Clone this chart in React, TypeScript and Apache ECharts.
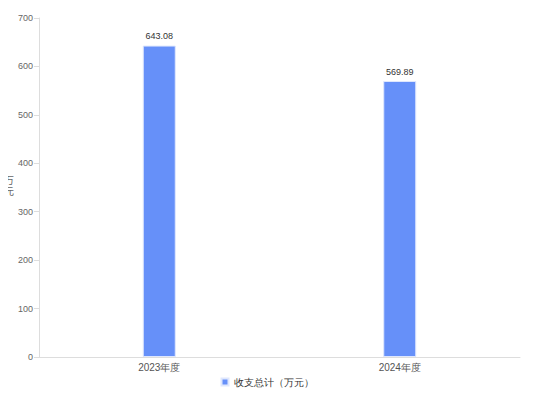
import React, { useEffect, useRef } from "react";
import * as echarts from "echarts";

const categories = ["2023年度", "2024年度"];
const values = [643.08, 569.89];
const seriesName = "收支总计（万元）";
const yAxisName = "万\n元";
const yTicks = { min: 0, max: 700, interval: 100 };

const FONT = "'Noto Sans CJK SC', 'Liberation Sans', Arial, sans-serif";

export default function App() {
  const ref = useRef<HTMLDivElement>(null);
  useEffect(() => {
    const chart = echarts.init(ref.current!, null, { renderer: "svg" });
    chart.setOption({
      animation: false,
      textStyle: { fontFamily: "'Liberation Sans', Arial, sans-serif" },
      grid: { left: 39, right: 14, top: 18, bottom: 43 },
      legend: {
        bottom: 8,
        left: "center",
        itemWidth: 7,
        itemHeight: 7,
        icon: "rect",
        textStyle: { fontSize: 10, color: "#333" },
        data: [seriesName],
      },
      graphic: [
        {
          type: "text",
          x: 9,
          y: 185,
          style: {
            text: yAxisName,
            fill: "#666",
            fontSize: 10,
            lineHeight: 11,
            fontFamily: FONT,
            align: "center",
            verticalAlign: "middle",
          },
        },
      ],
      xAxis: {
        type: "category",
        data: categories,
        axisLine: { lineStyle: { color: "#ddd" } },
        axisTick: { alignWithLabel: true, lineStyle: { color: "#ddd" } },
        axisLabel: { color: "#555", fontSize: 10, margin: 5 },
      },
      yAxis: {
        type: "value",
        min: yTicks.min,
        max: yTicks.max,
        interval: yTicks.interval,
        axisLine: { show: true, lineStyle: { color: "#ddd" } },
        axisTick: { show: true, lineStyle: { color: "#ddd" } },
        splitLine: { show: false },
        axisLabel: { color: "#666", fontSize: 9, margin: 6 },
      },
      series: [
        {
          name: seriesName,
          type: "bar",
          data: values,
          barWidth: 33,
          itemStyle: { color: "#6690f9", borderColor: "#dfe7fd", borderWidth: 1 },
          label: {
            show: true,
            position: "top",
            color: "#333",
            fontSize: 9,
            formatter: (p: any) => p.value.toFixed(2),
          },
        },
      ],
    });
    return () => chart.dispose();
  }, []);
  return <div ref={ref} style={{ width: 534, height: 400, margin: -8 }} />;
}
